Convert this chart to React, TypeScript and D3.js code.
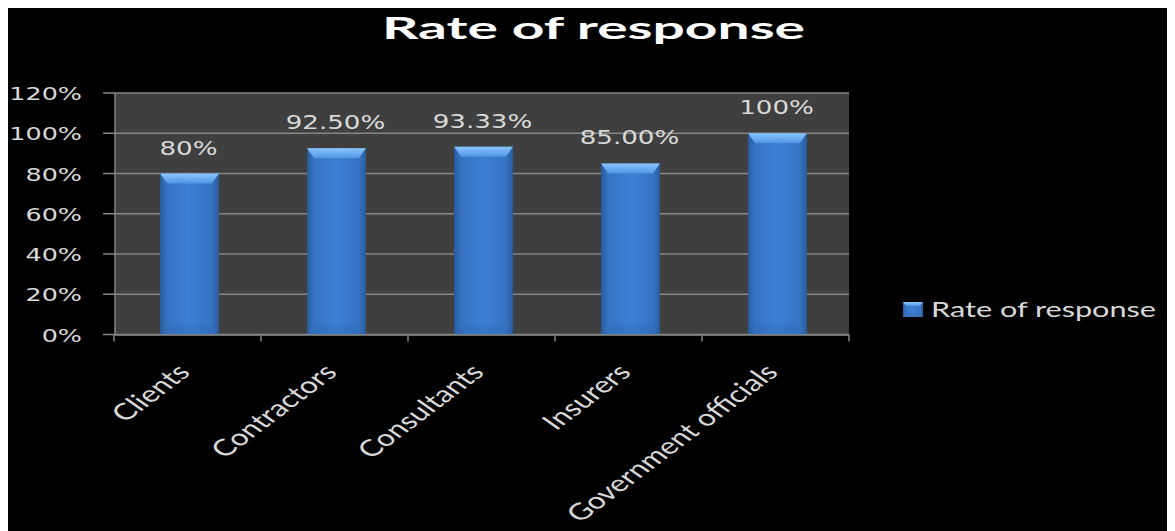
import React from "react";
import * as d3 from "d3";

const categories = ["Clients", "Contractors", "Consultants", "Insurers", "Government officials"];
const values = [80, 92.5, 93.33, 85, 100];
const valueLabels = ["80%", "92.50%", "93.33%", "85.00%", "100%"];
const yTicks = [0, 20, 40, 60, 80, 100, 120];
const yTickLabels = ["0%", "20%", "40%", "60%", "80%", "100%", "120%"];
const seriesName = "Rate of response";
const title = "Rate of response";

const S = 1.375; // horizontal stretch of the original picture
const W = 1167;
const H = 523;

export default function App() {
  const x = d3.scaleBand<string>().domain(categories).range([114, 849]).paddingInner(0.6).paddingOuter(0.3);
  const y = d3.scaleLinear().domain([0, 120]).range([334.5, 93]);
  const bw = x.bandwidth();
  const numFont = "'DejaVu Sans', Verdana, sans-serif";
  const txtFont = "Lato, 'Open Sans', sans-serif";

  const bar = (x0: number, y0: number, w: number, h: number, key: string, bev = 10, inset = 7) => (
    <g key={key}>
      <rect x={x0} y={y0} width={w} height={h} fill="url(#barBody)" />
      <polygon
        points={`${x0},${y0} ${x0 + w},${y0} ${x0 + w - inset},${y0 + bev} ${x0 + inset},${y0 + bev}`}
        fill="url(#barTop)"
      />
      <polygon
        points={`${x0},${y0 + h} ${x0 + w},${y0 + h} ${x0 + w - inset},${y0 + h - Math.min(bev, h / 3)} ${x0 + inset},${y0 + h - Math.min(bev, h / 3)}`}
        fill="#2f69b3"
        opacity={0.35}
      />
    </g>
  );

  return (
    <svg width={W} height={H} style={{ display: "block", background: "#000" }}>
      <defs>
        <linearGradient id="barBody" x1="0" x2="1" y1="0" y2="0">
          <stop offset="0" stopColor="#2a5c9e" />
          <stop offset="0.12" stopColor="#3673c2" />
          <stop offset="0.5" stopColor="#3c80d4" />
          <stop offset="0.88" stopColor="#3673c2" />
          <stop offset="1" stopColor="#2a5c9e" />
        </linearGradient>
        <linearGradient id="barTop" x1="0" x2="0" y1="0" y2="1">
          <stop offset="0" stopColor="#8cc6fa" />
          <stop offset="1" stopColor="#4f95e6" />
        </linearGradient>
      </defs>
      <g transform="translate(-8,-8)">
        {/* plot area */}
        <rect x={115} y={y(120)} width={849 - 115} height={y(0) - y(120)} fill="#3f3f3f" />
        {yTicks.map((t) => (
          <line key={"g" + t} x1={115} x2={849} y1={y(t)} y2={y(t)} stroke="#858585" strokeWidth={1.5} />
        ))}
        {/* y axis */}
        <line x1={115} x2={115} y1={y(120)} y2={y(0)} stroke="#868686" strokeWidth={1.5} />
        {yTicks.map((t, i) => (
          <g key={"yt" + t}>
            <line x1={103} x2={115} y1={y(t)} y2={y(t)} stroke="#868686" strokeWidth={1.5} />
            <text
              transform={`translate(82,${y(t) + 7}) scale(${S},1)`}
              textAnchor="end"
              fontFamily={numFont}
              fontSize={18.5}
              fill="#d9d9d9"
            >
              {yTickLabels[i]}
            </text>
          </g>
        ))}
        {/* bars */}
        {categories.map((c, i) => {
          const x0 = x(c)! + 2;
          const y0 = y(values[i]);
          return bar(x0, y0, bw, y(0) - y0, "b" + i);
        })}
        {/* data labels */}
        {categories.map((c, i) => (
          <text
            key={"l" + i}
            transform={`translate(${x(c)! + bw / 2 + 1},${y(values[i]) - 19}) scale(${S},1)`}
            textAnchor="middle"
            fontFamily={numFont}
            fontSize={19}
            fill="#d9d9d9"
          >
            {valueLabels[i]}
          </text>
        ))}
        {/* x axis */}
        <line x1={114} x2={849} y1={y(0) + 0.5} y2={y(0) + 0.5} stroke="#868686" strokeWidth={1.5} />
        {[0, 1, 2, 3, 4, 5].map((k) => {
          const xx = 114 + k * x.step();
          return <line key={"xt" + k} x1={xx} x2={xx} y1={y(0)} y2={y(0) + 7} stroke="#868686" strokeWidth={1.5} />;
        })}
        {categories.map((c, i) => (
          <text
            key={"c" + i}
            transform={`translate(${x(c)! + bw / 2 + 4},${y(0) + 39}) scale(${S},1) rotate(-46)`}
            textAnchor="end"
            fontFamily={txtFont}
            fontSize={23}
            fill="#d9d9d9"
          >
            {c}
          </text>
        ))}
        {/* title */}
        <text
          transform={`translate(593.5,39) scale(${S},1)`}
          textAnchor="middle"
          fontFamily={txtFont}
          fontWeight="bold"
          fontSize={31}
          fill="#ffffff"
          textLength={423 / S}
          lengthAdjust="spacingAndGlyphs"
        >
          {title}
        </text>
        {/* legend */}
        {bar(903, 302, 20, 15, "legend", 4, 3)}
        <text
          transform={`translate(931,317) scale(${S},1)`}
          fontFamily={txtFont}
          fontSize={21}
          fill="#d9d9d9"
          textLength={225 / S}
          lengthAdjust="spacingAndGlyphs"
        >
          {seriesName}
        </text>
      </g>
    </svg>
  );
}
